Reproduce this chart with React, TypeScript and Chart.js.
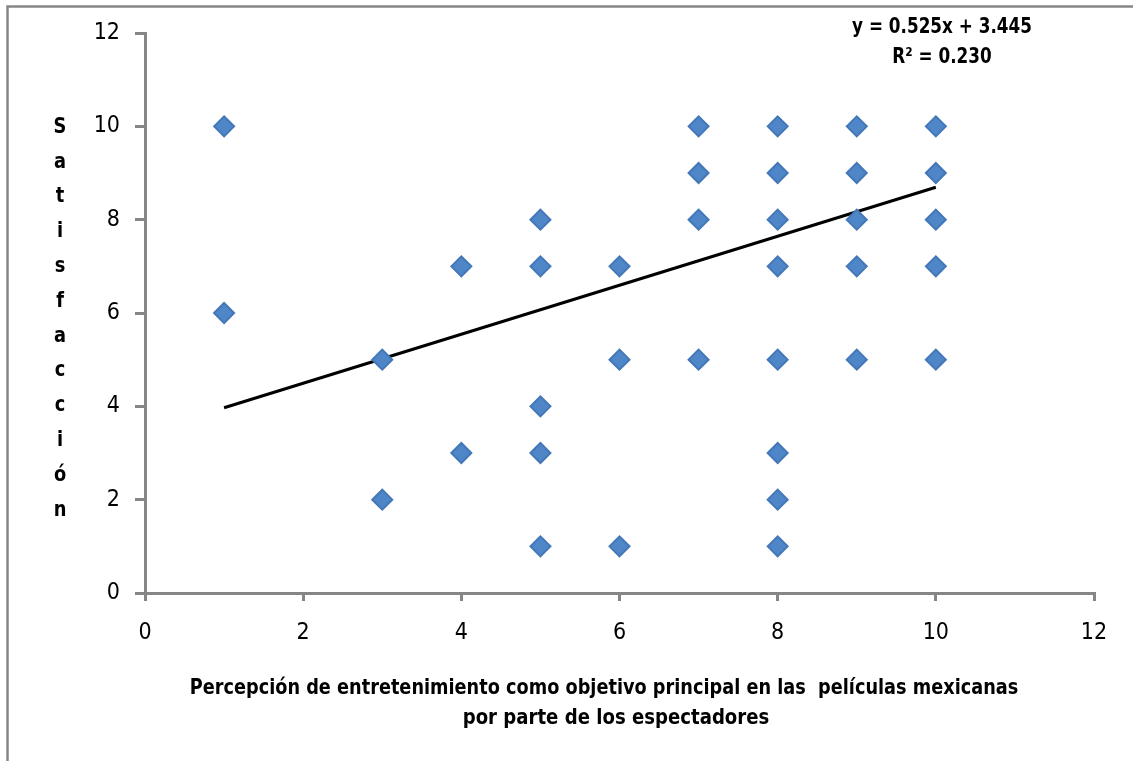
import React, { useEffect, useRef } from "react";
import { Chart, registerables } from "chart.js";

Chart.register(...registerables);

// ---- data ----
const xValues = [1, 1, 3, 3, 4, 4, 5, 5, 5, 5, 5, 6, 6, 6, 7, 7, 7, 7, 8, 8, 8, 8, 8, 8, 8, 8, 9, 9, 9, 9, 9, 10, 10, 10, 10, 10];
const yValues = [10, 6, 5, 2, 7, 3, 8, 7, 4, 3, 1, 7, 5, 1, 10, 9, 8, 5, 10, 9, 8, 7, 5, 3, 2, 1, 10, 9, 8, 7, 5, 10, 9, 8, 7, 5];
const trendX = [1, 10];
const trendY = [3.97, 8.695];
const axisMin = 0;
const axisMax = 12;
const axisStep = 2;
const equationLines = ["y = 0.525x + 3.445", "R² = 0.230"];
const yTitle = "Satisfacción";
const xTitleLines = [
  "Percepción de entretenimiento como objetivo principal en las  películas mexicanas",
  "por parte de los espectadores",
];

const FONT = "'Liberation Sans Narrow', 'Arial Narrow', 'DejaVu Sans Condensed', sans-serif";
const AXIS_GRAY = "#868686";

function drawNarrow(ctx: any, text: string, cx: number, cy: number, sx: number) {
  ctx.save();
  ctx.translate(cx, cy);
  ctx.scale(sx, 1);
  ctx.fillText(text, 0, 0);
  ctx.restore();
}

const annotations = {
  id: "annotations",
  beforeDraw(chart: any) {
    const ctx = chart.ctx;
    ctx.save();
    ctx.strokeStyle = AXIS_GRAY;
    ctx.lineWidth = 2.5;
    ctx.strokeRect(7.5, 6.5, chart.width + 20, chart.height + 20);
    ctx.restore();
  },
  afterDraw(chart: any) {
    const ctx = chart.ctx;
    ctx.save();
    ctx.fillStyle = "#000";
    ctx.textAlign = "center";
    ctx.textBaseline = "middle";
    ctx.font = `bold 22px ${FONT}`;
    // vertical stacked y title
    const letters = Array.from(yTitle);
    letters.forEach((ch, i) => {
      drawNarrow(ctx, ch, 60, 127 + i * 34.8, 0.9);
    });
    // x title (two lines, second slightly offset as in the reference)
    drawNarrow(ctx, xTitleLines[0], 604, 688, 0.895);
    drawNarrow(ctx, xTitleLines[1], 616, 718, 0.915);
    // equation
    equationLines.forEach((line, i) => {
      drawNarrow(ctx, line, 942, 27 + i * 30, 0.85);
    });
    ctx.restore();
  },
};

export default function App() {
  const ref = useRef<HTMLCanvasElement | null>(null);
  useEffect(() => {
    document.body.style.margin = "0";
    const points = xValues.map((x, i) => ({ x, y: yValues[i] }));
    const trend = trendX.map((x, i) => ({ x, y: trendY[i] }));
    const chart = new Chart(ref.current as HTMLCanvasElement, {
      type: "scatter",
      data: {
        datasets: [
          {
            data: points,
            pointStyle: "rectRot",
            pointRadius: 10,
            pointHoverRadius: 10,
            backgroundColor: "#4f86c8",
            borderColor: "#4377b8",
            borderWidth: 2,
          },
          {
            type: "line",
            data: trend,
            borderColor: "#000",
            borderWidth: 3,
            pointRadius: 0,
            showLine: true,
            fill: false,
          },
        ],
      },
      plugins: [annotations],
      options: {
        animation: false,
        responsive: false,
        maintainAspectRatio: false,
        layout: { padding: { left: 0, top: 33, right: 39, bottom: 0 } },
        plugins: { legend: { display: false }, tooltip: { enabled: false }, title: { display: false } },
        scales: {
          x: {
            type: "linear",
            min: axisMin,
            max: axisMax,
            ticks: { stepSize: axisStep, color: "#000", padding: 18, font: { family: FONT, size: 23 }, autoSkip: false },
            grid: { drawOnChartArea: false, drawTicks: true, tickLength: 8, color: AXIS_GRAY, lineWidth: 3 },
            border: { display: true, color: AXIS_GRAY, width: 3 },
            afterFit: (s: any) => { s.height = 168; },
          },
          y: {
            type: "linear",
            min: axisMin,
            max: axisMax,
            ticks: { stepSize: axisStep, color: "#000", padding: 15, font: { family: FONT, size: 23 } },
            grid: { drawOnChartArea: false, drawTicks: true, tickLength: 10, color: AXIS_GRAY, lineWidth: 3 },
            border: { display: true, color: AXIS_GRAY, width: 3 },
            afterFit: (s: any) => { s.width = 145; },
          },
        },
      },
    });
    return () => chart.destroy();
  }, []);
  return <canvas ref={ref} width={1133} height={761} style={{ display: "block" }} />;
}
